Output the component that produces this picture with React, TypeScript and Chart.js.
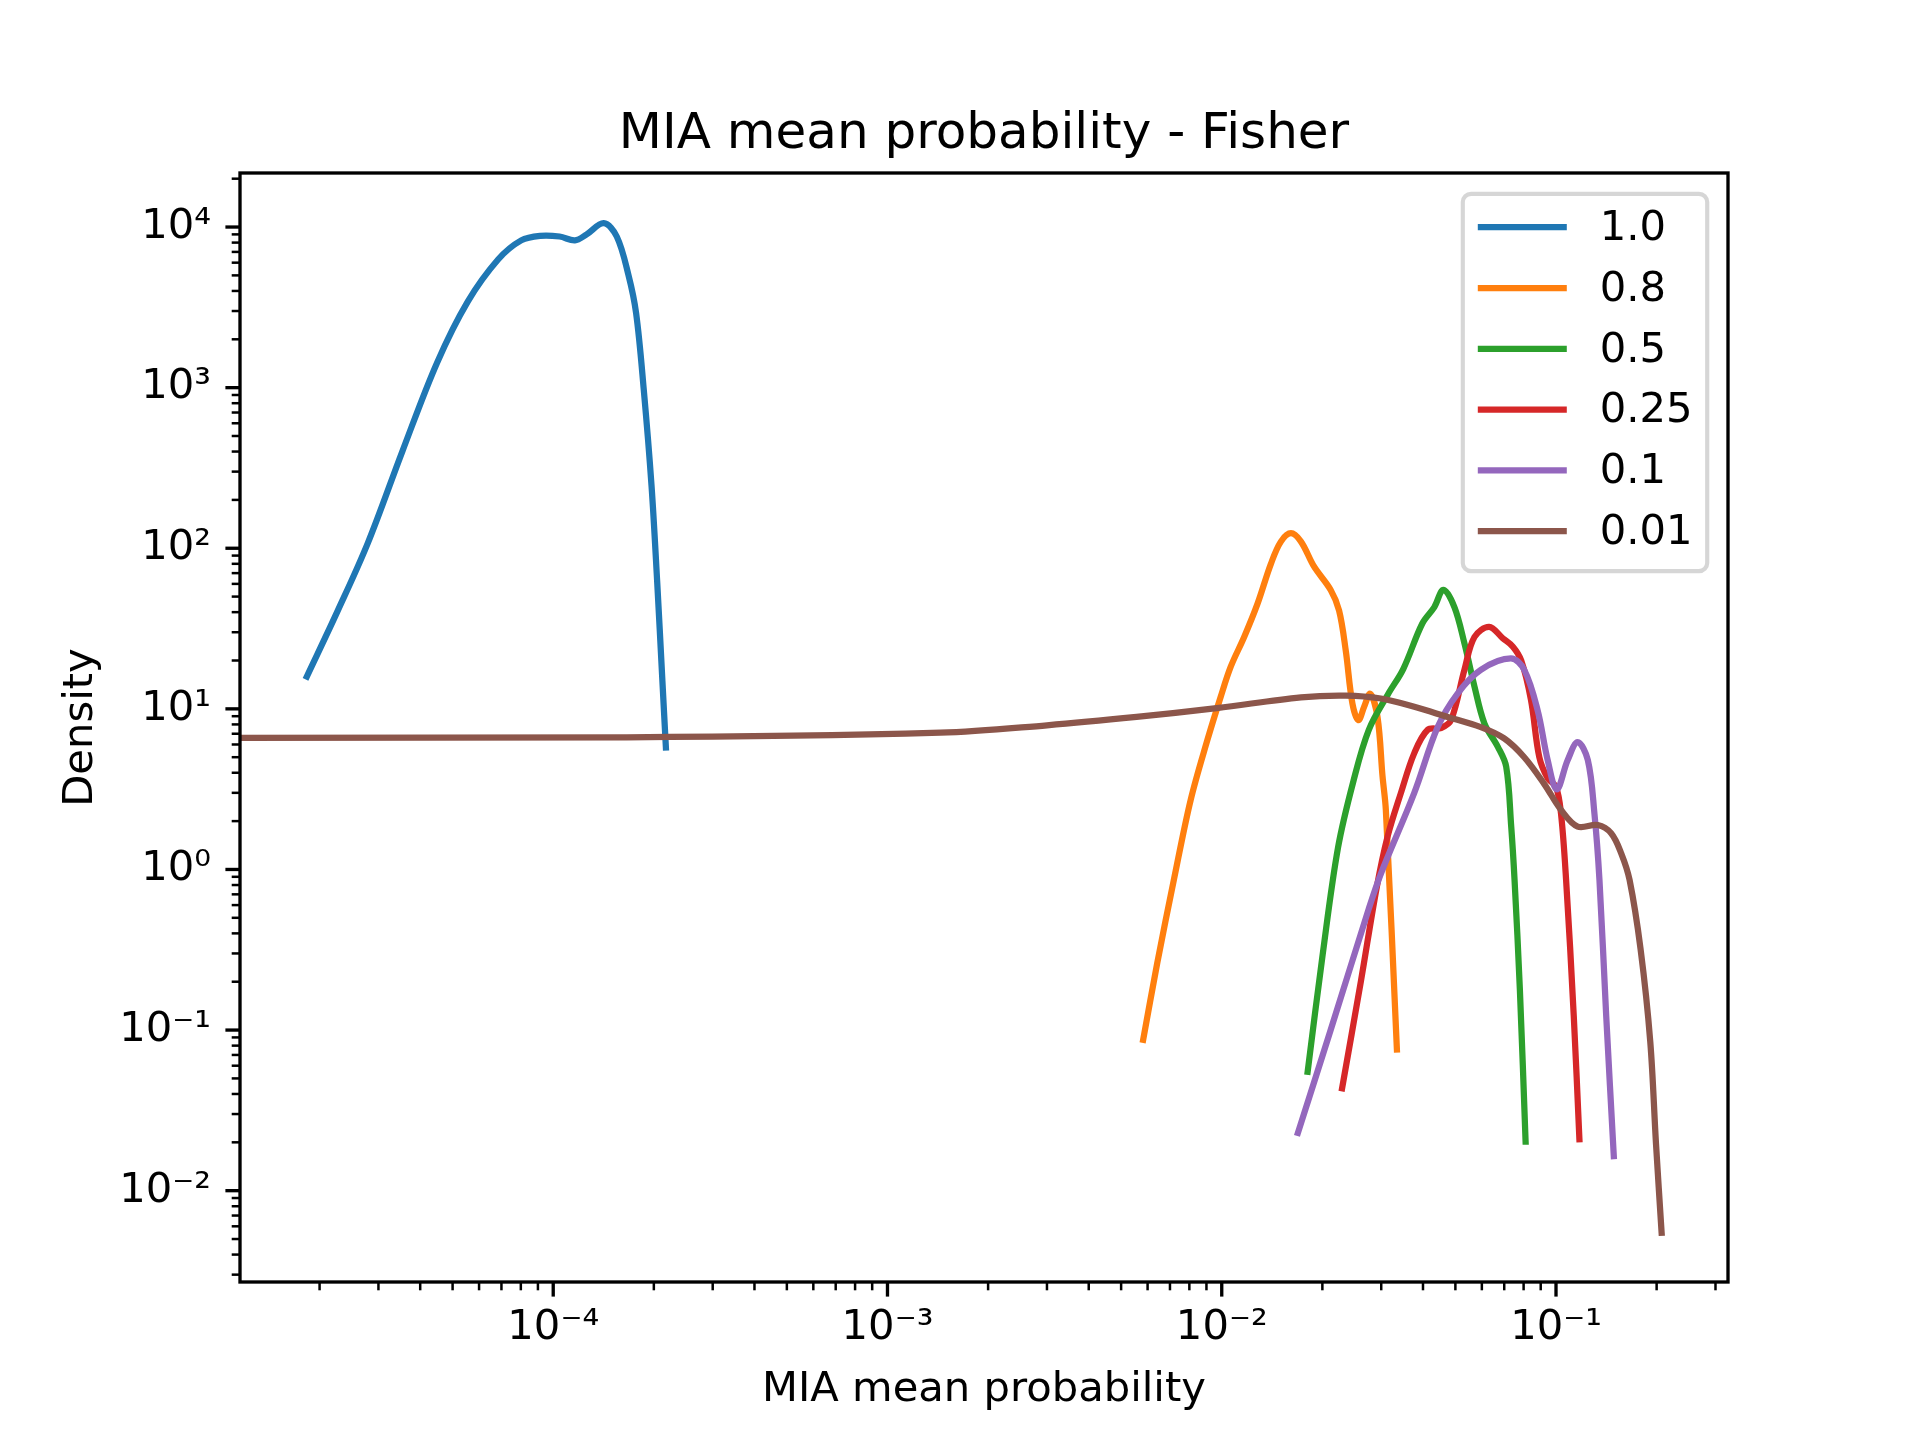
import React, { useEffect, useRef } from 'react';
import { Chart, registerables } from 'chart.js';

Chart.register(...registerables);

// ---------------- data ----------------
const seriesLabels = ['1.0', '0.8', '0.5', '0.25', '0.1', '0.01'];
const seriesColors = ['#1f77b4', '#ff7f0e', '#2ca02c', '#d62728', '#9467bd', '#8c564b'];

const s100X = [1.832e-5, 2.26e-5, 2.79e-5, 3.54e-5, 4.49e-5, 5.55e-5, 6.84e-5, 8.02e-5, 9.14e-5, 1.045e-4, 1.161e-4, 1.256e-4, 1.416e-4, 1.549e-4, 1.679e-4, 1.77e-4, 1.866e-4, 1.968e-4, 2.046e-4, 2.118e-4, 2.173e-4];
const s100Y = [15.9, 40.3, 108, 403, 1426, 3434, 6280, 8260, 8820, 8730, 8260, 8970, 10570, 8730, 5030, 2910, 970, 247, 62.5, 15.9, 5.75];

const s80X = [5.82e-3, 6.41e-3, 7.19e-3, 8.07e-3, 9.06e-3, 9.93e-3, 1.064e-2, 1.167e-2, 1.279e-2, 1.403e-2, 1.503e-2, 1.611e-2, 1.726e-2, 1.888e-2, 2.118e-2, 2.244e-2, 2.35e-2, 2.46e-2, 2.564e-2, 2.667e-2, 2.78e-2, 2.924e-2, 3.027e-2, 3.097e-2, 3.342e-2];
const s80Y = [0.087, 0.26, 0.86, 2.7, 6.4, 11.9, 18.3, 28, 45, 80, 110, 124, 110, 77, 55, 41, 23, 10.8, 8.5, 10.3, 12.4, 8.9, 3.8, 2.35, 0.0757];

const s50X = [1.807e-2, 2.004e-2, 2.228e-2, 2.477e-2, 2.754e-2, 3.141e-2, 3.491e-2, 3.981e-2, 4.325e-2, 4.603e-2, 4.966e-2, 5.321e-2, 5.702e-2, 6.109e-2, 6.699e-2, 7.096e-2, 7.345e-2, 7.516e-2, 7.798e-2, 8.11e-2];
const s50Y = [0.055, 0.295, 1.37, 3.55, 7.4, 12.3, 17.7, 34, 43, 55, 43, 25.6, 13.8, 8.1, 5.8, 4.36, 1.85, 0.86, 0.177, 0.0202];

const s25X = [2.291e-2, 2.612e-2, 2.904e-2, 3.133e-2, 3.436e-2, 3.767e-2, 4.13e-2, 4.529e-2, 4.853e-2, 5.321e-2, 5.702e-2, 6.31e-2, 6.934e-2, 7.43e-2, 7.87e-2, 8.414e-2, 8.913e-2, 9.441e-2, 0.1, 0.1035, 0.1072, 0.113, 0.1175];
const s25Y = [0.0434, 0.205, 0.76, 1.6, 3.0, 5.3, 7.4, 7.6, 8.5, 17.5, 28, 32.4, 27.5, 24.4, 20, 11.4, 5.0, 3.7, 3.27, 2.23, 0.86, 0.123, 0.0209];

const s10X = [1.69e-2, 2.113e-2, 2.754e-2, 2.992e-2, 3.767e-2, 4.426e-2, 5.082e-2, 5.957e-2, 7.328e-2, 8.035e-2, 8.81e-2, 9.441e-2, 0.1005, 0.1084, 0.1161, 0.1245, 0.1303, 0.1349, 0.1413, 0.1489];
const s10Y = [0.0229, 0.0986, 0.57, 0.94, 3.0, 7.7, 12.5, 17.5, 20.6, 17.5, 9.8, 4.8, 3.15, 4.8, 6.2, 4.8, 2.23, 0.86, 0.123, 0.0164];

const s01X = [1e-7, 1.66e-4, 1.44e-3, 3.0e-3, 5.56e-3, 9.66e-3, 1.726e-2, 2.35e-2, 2.992e-2, 3.767e-2, 4.742e-2, 5.957e-2, 6.998e-2, 8.035e-2, 9.226e-2, 0.1035, 0.1161, 0.1334, 0.1462, 0.1567, 0.166, 0.1791, 0.1914, 0.1991, 0.207];
const s01Y = [6.6, 6.65, 7.1, 7.9, 8.9, 10.1, 11.8, 12.1, 11.6, 10.3, 8.9, 7.7, 6.55, 5.0, 3.4, 2.35, 1.85, 1.89, 1.68, 1.26, 0.86, 0.318, 0.085, 0.0197, 0.00547];

const seriesX = [s100X, s80X, s50X, s25X, s10X, s01X];
const seriesY = [s100Y, s80Y, s50Y, s25Y, s10Y, s01Y];

const xTickValues = [1e-4, 1e-3, 1e-2, 1e-1];
const yTickValues = [1e-2, 1e-1, 1, 10, 100, 1000, 10000];
const xLimits = [1.156e-5, 0.327];
const yLimits = [0.0027, 21700];

const chartTitle = 'MIA mean probability - Fisher';
const xTitle = 'MIA mean probability';
const yTitle = 'Density';

// ---------------- helpers ----------------
const FONT = 'DejaVu Sans';
const FS = 41.7;
const SUP: Record<string, string> = {
  '-': '\u207B', '0': '\u2070', '1': '\u00B9', '2': '\u00B2', '3': '\u00B3',
  '4': '\u2074', '5': '\u2075', '6': '\u2076', '7': '\u2077', '8': '\u2078', '9': '\u2079',
};
const powLabel = (v: number) => {
  const e = Math.round(Math.log10(v));
  return '10' + String(e).split('').map((c) => SUP[c]).join('');
};

const mplPlugin = {
  id: 'mplDecor',
  afterDraw(chart: any) {
    const { ctx, chartArea: a, scales } = chart;
    ctx.save();
    ctx.strokeStyle = '#000';
    ctx.lineCap = 'butt';
    const drawTicks = (scale: any, horizontal: boolean) => {
      const lo = Math.floor(Math.log10(scale.min));
      const hi = Math.ceil(Math.log10(scale.max));
      for (let e = lo; e <= hi; e++) {
        for (let k = 1; k <= 9; k++) {
          const v = k * Math.pow(10, e);
          if (v < scale.min * (1 - 1e-9) || v > scale.max * (1 + 1e-9)) continue;
          const p = scale.getPixelForValue(v);
          const major = k === 1;
          ctx.lineWidth = major ? 3.33 : 2.5;
          const len = major ? 14.6 : 8.3;
          ctx.beginPath();
          if (horizontal) {
            ctx.moveTo(p, a.bottom);
            ctx.lineTo(p, a.bottom + len);
          } else {
            ctx.moveTo(a.left, p);
            ctx.lineTo(a.left - len, p);
          }
          ctx.stroke();
        }
      }
    };
    drawTicks(scales.x, true);
    drawTicks(scales.y, false);
    ctx.lineWidth = 3.33;
    ctx.lineJoin = 'miter';
    ctx.strokeRect(a.left, a.top, a.right - a.left, a.bottom - a.top);

    // legend (matplotlib style, upper right inside the axes)
    const boxW = 244.4;
    const boxH = 377.4;
    const bx = a.right - 20.8 - boxW;
    const by = a.top + 20.8;
    ctx.beginPath();
    ctx.roundRect(bx, by, boxW, boxH, 8.3);
    ctx.fillStyle = 'rgba(255,255,255,0.8)';
    ctx.fill();
    ctx.strokeStyle = 'rgba(204,204,204,0.8)';
    ctx.lineWidth = 4.17;
    ctx.stroke();
    ctx.font = `${FS}px "${FONT}"`;
    ctx.textBaseline = 'middle';
    ctx.textAlign = 'left';
    chart.data.datasets.forEach((ds: any, i: number) => {
      const y = by + 33.4 + i * 60.8;
      ctx.strokeStyle = ds.borderColor;
      ctx.lineWidth = 6.25;
      ctx.lineCap = 'butt';
      ctx.beginPath();
      ctx.moveTo(bx + 15, y);
      ctx.lineTo(bx + 104, y);
      ctx.stroke();
      ctx.fillStyle = '#000';
      ctx.fillText(ds.label, bx + 137, y + 2);
    });
    ctx.restore();
  },
};

export default function App() {
  const canvasRef = useRef<HTMLCanvasElement | null>(null);

  useEffect(() => {
    document.body.style.margin = '0';
    const canvas = canvasRef.current;
    if (!canvas) return;
    const datasets = seriesLabels.map((label, i) => ({
      label,
      data: seriesX[i].map((x, j) => ({ x, y: seriesY[i][j] })),
      borderColor: seriesColors[i],
      backgroundColor: seriesColors[i],
      borderWidth: 6.25,
      pointRadius: 0,
      pointHoverRadius: 0,
      fill: false,
      tension: 0.35,
      borderCapStyle: 'square' as const,
      borderJoinStyle: 'round' as const,
      clip: 0,
      order: seriesLabels.length - 1 - i,
    }));

    const chart = new Chart(canvas, {
      type: 'line',
      data: { datasets },
      options: {
        animation: false,
        responsive: false,
        devicePixelRatio: 1,
        layout: { padding: { left: 0, top: 0, right: 192, bottom: 0 } },
        plugins: {
          legend: { display: false },
          tooltip: { enabled: false },
          title: {
            display: true,
            text: chartTitle,
            color: '#000',
            fullSize: false,
            font: { family: FONT, size: 50, weight: 'normal', lineHeight: 1.2 },
            padding: { top: 105, bottom: 8 },
          },
        },
        scales: {
          x: {
            type: 'logarithmic',
            position: 'bottom',
            min: xLimits[0],
            max: xLimits[1],
            afterBuildTicks: (s: any) => {
              s.ticks = xTickValues.map((v) => ({ value: v, major: true }));
            },
            afterFit: (s: any) => {
              s.height = 158;
            },
            grid: { display: false, drawTicks: false },
            border: { display: false },
            ticks: {
              autoSkip: false,
              maxRotation: 0,
              minRotation: 0,
              padding: 21.5,
              color: '#000',
              font: { family: FONT, size: FS },
              callback: (v: any) => powLabel(Number(v)),
            },
            title: {
              display: true,
              text: xTitle,
              color: '#000',
              font: { family: FONT, size: FS, lineHeight: 1.2 },
              padding: { top: 0, bottom: 25 },
            },
          },
          y: {
            type: 'logarithmic',
            position: 'left',
            min: yLimits[0],
            max: yLimits[1],
            afterBuildTicks: (s: any) => {
              s.ticks = yTickValues.map((v) => ({ value: v, major: true }));
            },
            afterFit: (s: any) => {
              s.width = 240;
            },
            grid: { display: false, drawTicks: false },
            border: { display: false },
            ticks: {
              autoSkip: false,
              padding: 29,
              color: '#000',
              font: { family: FONT, size: FS },
              callback: (v: any) => powLabel(Number(v)),
            },
            title: {
              display: true,
              text: yTitle,
              color: '#000',
              font: { family: FONT, size: FS, lineHeight: 1.2 },
              padding: { top: 56.5, bottom: 0 },
            },
          },
        },
      },
      plugins: [mplPlugin],
    } as any);

    return () => {
      chart.destroy();
    };
  }, []);

  return (
    <div style={{ width: 1920, height: 1440, background: '#fff' }}>
      <canvas
        ref={canvasRef}
        width={1920}
        height={1440}
        style={{ display: 'block', width: '1920px', height: '1440px' }}
      />
    </div>
  );
}
